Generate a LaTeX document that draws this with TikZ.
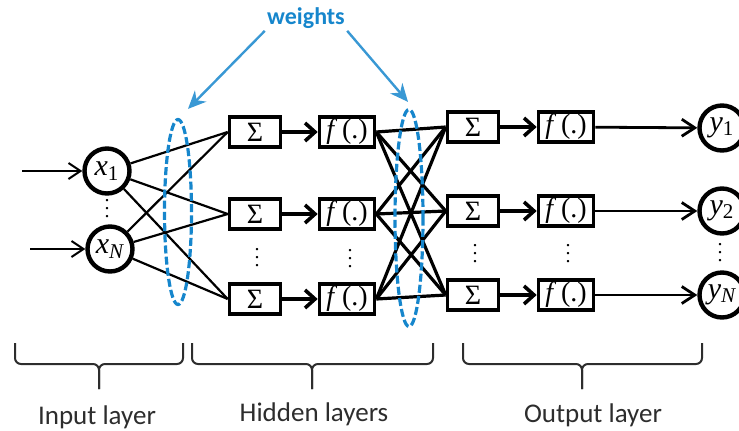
\documentclass[tikz,border=0pt]{standalone}
\usepackage{fontspec}
\setmainfont{Liberation Serif}
\newfontfamily\labelfont{Carlito}
\usetikzlibrary{arrows.meta,shapes.geometric}
\definecolor{wblue}{RGB}{22,134,204}
\definecolor{bracegray}{RGB}{45,45,45}
\newcommand{\invar}[2]{{\itshape #1}\textsubscript{#2}}
\newcommand{\threedots}{\vbox{\baselineskip=4pt\lineskiplimit=0pt\hbox{.}\hbox{.}\hbox{.}}}

\begin{document}
\begin{tikzpicture}[x=0.5pt,y=-0.5pt,
    neuron/.style={circle,draw,line width=2.2pt,minimum size=22.5pt,inner sep=0pt,font=\fontsize{15}{17}\selectfont},
    sumbox/.style={draw,line width=1.8pt,minimum width=25.5pt,minimum height=15pt,inner sep=0pt,font=\fontsize{14}{16}\selectfont},
    actbox/.style={sumbox,minimum width=27.5pt},
    inlink/.style={line width=1.1pt},
    hidlink/.style={line width=1.6pt},
    inarrow/.style={line width=1pt,-{Straight Barb[length=6pt,width=8pt]}},
    sumarrow/.style={line width=1.8pt,-{Straight Barb[length=5pt,width=9pt]}},
    outarrow/.style={line width=1.4pt,-{Straight Barb[length=6.5pt,width=8.5pt]}},
    wring/.style={ellipse,draw=wblue,line width=1.6pt,dash pattern=on 4pt off 1.6pt,inner sep=0pt},
    warrow/.style={wblue!85,line width=1.2pt,-{Stealth[length=9pt,width=8pt]}},
    brace/.style={bracegray,line width=1pt,rounded corners=3pt},
    layertext/.style={anchor=base,text=bracegray,font=\fontsize{13.5}{16}\selectfont\labelfont},
    dotsnode/.style={inner sep=0pt,font=\fontsize{10}{12}\selectfont}
]
    \useasboundingbox (0,0) rectangle (739,430);

    % input layer
    \node[neuron] (x1) at (107,171) {\invar{x}{1}};
    \node[neuron] (xN) at (110,249) {\invar{x}{\itshape N}};
    \node[dotsnode] (xdots) at (107,209) {\threedots};
    \coordinate (in1) at (22,171);
    \coordinate (inN) at (30,249);
    \draw[inarrow] (in1) -- (x1);
    \draw[inarrow] (inN) -- (xN);

    % hidden layers
    \node[sumbox] (hs1) at (255,132) {Σ};
    \node[sumbox] (hs2) at (255,214) {Σ};
    \node[sumbox] (hs3) at (255,299) {Σ};
    \node[dotsnode] (hsdots) at (257,258) {\threedots};
    \node[actbox] (hf1) at (347,132) {\textit{f}\,(.)};
    \node[actbox] (hf2) at (347,214) {\textit{f}\,(.)};
    \node[actbox] (hf3) at (347,299) {\textit{f}\,(.)};
    \node[dotsnode] (hfdots) at (350,259) {\threedots};

    % output layer
    \node[sumbox] (os1) at (473,127) {Σ};
    \node[sumbox] (os2) at (473,211) {Σ};
    \node[sumbox] (os3) at (473,295) {Σ};
    \node[dotsnode] (osdots) at (475,254) {\threedots};
    \node[actbox] (of1) at (566,127) {\textit{f}\,(.)};
    \node[actbox] (of2) at (566,211) {\textit{f}\,(.)};
    \node[actbox] (of3) at (566,295) {\textit{f}\,(.)};
    \node[dotsnode] (ofdots) at (568,254) {\threedots};
    \node[neuron] (y1) at (722,128) {\invar{y}{1}};
    \node[neuron] (y2) at (722,211) {\invar{y}{2}};
    \node[neuron] (yN) at (722,295) {\invar{y}{\itshape N}};
    \node[dotsnode] (ydots) at (720,253) {\threedots};

    \draw[inlink] (x1) -- (hs1.west);
    \draw[inlink] (x1) -- (hs2.west);
    \draw[inlink] (x1) -- (hs3.west);
    \draw[inlink] (xN) -- (hs1.west);
    \draw[inlink] (xN) -- (hs2.west);
    \draw[inlink] (xN) -- (hs3.west);

    \draw[sumarrow] (hs1) -- (hf1);
    \draw[sumarrow] (hs2) -- (hf2);
    \draw[sumarrow] (hs3) -- (hf3);

    \draw[hidlink] (hf1.east) -- (os1.west);
    \draw[hidlink] (hf1.east) -- (os2.west);
    \draw[hidlink] (hf1.east) -- (os3.west);
    \draw[hidlink] (hf2.east) -- (os1.west);
    \draw[hidlink] (hf2.east) -- (os2.west);
    \draw[hidlink] (hf2.east) -- (os3.west);
    \draw[hidlink] (hf3.east) -- (os1.west);
    \draw[hidlink] (hf3.east) -- (os2.west);
    \draw[hidlink] (hf3.east) -- (os3.west);

    \draw[sumarrow] (os1) -- (of1);
    \draw[sumarrow] (os2) -- (of2);
    \draw[sumarrow] (os3) -- (of3);
    \draw[outarrow] (of1) -- (y1);
    \draw[outarrow] (of2) -- (y2);
    \draw[outarrow] (of3) -- (yN);

    % weights
    \node[wring,minimum width=13.5pt,minimum height=92.5pt] (e1) at (178,212) {};
    \node[wring,minimum width=14pt,minimum height=108.5pt] (e2) at (409,218) {};
    \node[text=wblue,inner sep=1pt,font=\fontsize{12}{14}\selectfont\labelfont\bfseries] (w) at (306,18) {weights};
    \draw[warrow] (w.south west) -- ([xshift=5pt,yshift=4.5pt]e1.north);
    \draw[warrow] (w.south east) -- ([xshift=-0.5pt,yshift=3pt]e2.north);

    % braces
    \draw[brace] (15,343) -- (15,364) -- (99,364) -- (99,389);
    \draw[brace] (183,343) -- (183,364) -- (99,364) -- (99,389);
    \draw[brace] (192,343) -- (192,364) -- (312,364) -- (312,389);
    \draw[brace] (433,343) -- (433,364) -- (312,364) -- (312,389);
    \draw[brace] (463,343) -- (463,364) -- (582,364) -- (582,389);
    \draw[brace] (702,343) -- (702,364) -- (582,364) -- (582,389);
    \node[layertext] (linput) at (97,424) {Input layer};
    \node[layertext] (lhidden) at (314,421) {Hidden layers};
    \node[layertext] (loutput) at (593,422) {Output layer};
\end{tikzpicture}
\end{document}
